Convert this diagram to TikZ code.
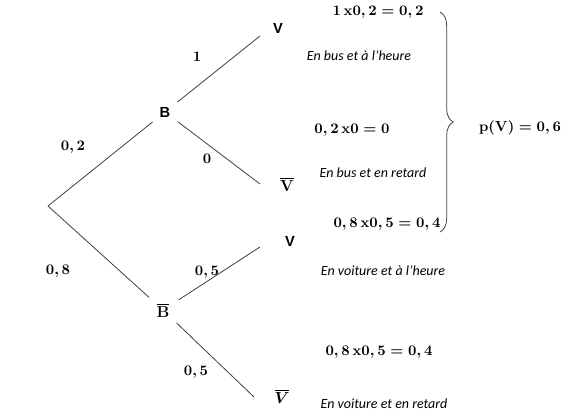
\documentclass[tikz,border=0pt]{standalone}
\usepackage{amsmath,amssymb}
\usepackage{fontspec}
\newfontfamily\calibri{Carlito}
\newfontfamily\arialfont{Liberation Sans}
\usetikzlibrary{decorations.pathreplacing,positioning}

\begin{document}
\begin{tikzpicture}[
    x=0.75pt, y=-0.75pt,
    branch/.style={draw=black!75, line width=0.6pt},
    inner/.style={circle, inner sep=0pt, minimum size=24pt, outer sep=0pt, font=\fontsize{11}{13}\selectfont\arialfont\bfseries},
    leaf/.style={font=\fontsize{11}{13}\selectfont\arialfont\bfseries},
    prob/.style={font=\fontsize{10.5}{12}\selectfont\boldmath},
    caption/.style={font=\fontsize{10.5}{12}\selectfont\calibri\itshape}
]
\useasboundingbox (0,0) rectangle (569,416);

% tree
\coordinate (root) at (48,206);
\node[inner] (B) at (165,112) {B};
\node[inner, minimum size=28pt, font=\fontsize{11.5}{13}\selectfont\boldmath] (Bb) at (163,310) {$\overline{\mathbf{B}}$};

\coordinate (tVB) at (260,36);
\coordinate (tVbB) at (260,184);
\coordinate (tVBb) at (260,247);
\coordinate (tVbBb) at (254,397);

\node[leaf] (VB) at (278,28) {V};
\node[prob, font=\fontsize{11.5}{13}\selectfont\boldmath] (VbB) at (287,184) {$\overline{\mathbf{V}}$};
\node[leaf] (VBb) at (290,241) {V};
\node[prob, font=\fontsize{11.5}{13}\selectfont\boldmath] (VbBb) at (282,396) {$\overline{\boldsymbol{V}}$};

\draw[branch] (root) -- (B);
\draw[branch] (root) -- (Bb);
\draw[branch] (B) -- (tVB);
\draw[branch] (B) -- (tVbB);
\draw[branch] (Bb) -- (tVBb);
\draw[branch] (Bb) -- (tVbBb);

% probabilities on branches
\node[prob] (p02) at (73,147) {$0,2$};
\node[prob] (p08) at (58,271) {$0,8$};
\node[prob] (p1) at (197,57) {$1$};
\node[prob] (p0) at (207,159) {$0$};
\node[prob] (p05a) at (207,272) {$0,5$};
\node[prob] (p05b) at (196,372) {$0,5$};

% products and outcomes
\node[prob] (r1) at (378,12) {$1\,\mathbf{x}0,2 = 0,2$};
\node[caption] (c1) at (359,56) {En bus et à l’heure};
\node[prob] (r2) at (352,130) {$0,2\,\mathbf{x}0 = 0$};
\node[caption] (c2) at (373,173) {En bus et en retard};
\node[prob] (r3) at (387,224) {$0,8\,\mathbf{x}0,5 = 0,4$};
\node[caption] (c3) at (383,271) {En voiture et à l’heure};
\node[prob] (r4) at (379,352) {$0,8\,\mathbf{x}0,5 = 0,4$};
\node[caption] (c4) at (384,404) {En voiture et en retard};

% brace
\coordinate (btop) at (440,12);
\coordinate (bbot) at (440,232);
\draw[branch, decorate, decoration={brace, amplitude=10pt}] (btop) -- (bbot);
\node[prob] (pV) at (520,128) {$\mathbf{p}(\mathbf{V}) = 0,6$};

\end{tikzpicture}
\end{document}
